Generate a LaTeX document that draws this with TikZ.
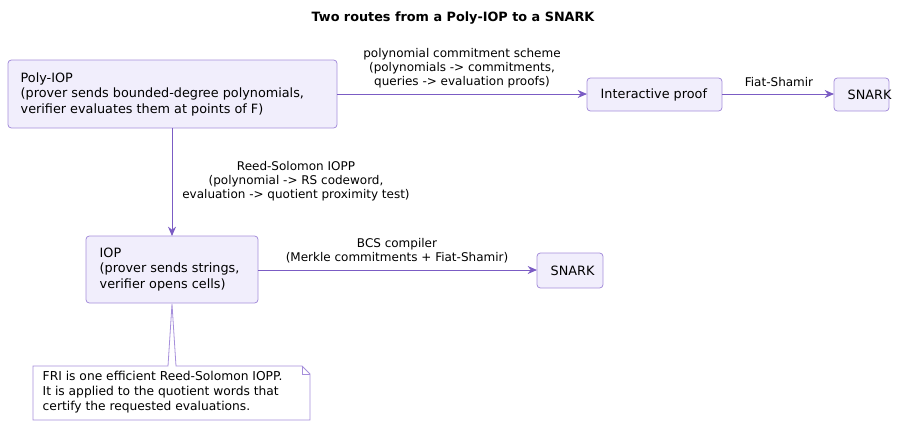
\documentclass[tikz,border=0pt]{standalone}
\usepackage{fontspec}
\setmainfont{DejaVu Sans}
\usetikzlibrary{arrows.meta}
\definecolor{boxfill}{HTML}{F1EEFC}
\definecolor{boxline}{HTML}{A68FDB}
\definecolor{arr}{HTML}{7B5CC4}
\begin{document}
\begin{tikzpicture}[x=0.75pt,y=-0.75pt,
  box/.style={draw=boxline,fill=boxfill,rounded corners=2.5pt,line width=0.6pt,inner sep=0pt},
  txt/.style={font=\fontsize{9.6}{11.6}\selectfont,align=left,anchor=west},
  lbl/.style={font=\fontsize{9}{10.5}\selectfont,align=center,inner sep=0pt},
  link/.style={draw=arr,line width=0.7pt,-{Stealth[length=7pt,width=6pt]}}]
\useasboundingbox (0,0) rectangle (906,426);
\node[font=\bfseries\fontsize{9.6}{11}\selectfont] (title) at (453,18) {Two routes from a Poly-IOP to a SNARK};
% boxes
\path[box] (8,60) rectangle (337,128);
\coordinate (poly) at (172,94);
\node[txt] (polyt) at (16,94) {Poly-IOP\\(prover sends bounded-degree polynomials,\\verifier evaluates them at points of F)};
\path[box] (587,78) rectangle (722,111);
\node[txt] (ip) at (596,94.5) {Interactive proof};
\path[box] (834,78) rectangle (889,111);
\node[txt] (sn1) at (843,94.5) {SNARK};
\path[box] (86,236) rectangle (258,303);
\node[txt] (iop) at (95,269.5) {IOP\\(prover sends strings,\\verifier opens cells)};
\path[box] (537,253) rectangle (603,288);
\node[txt] (sn2) at (546,270.5) {SNARK};
% arrows
\coordinate (a1) at (337,94); \coordinate (a2) at (587,94);
\draw[link] (a1) -- (a2);
\node[lbl] (l1) at (462,68) {polynomial commitment scheme\\(polynomials -> commitments,\\queries -> evaluation proofs)};
\coordinate (b1) at (722,94); \coordinate (b2) at (834,94);
\draw[link] (b1) -- (b2);
\node[lbl] (l2) at (779,82) {Fiat-Shamir};
\coordinate (c1) at (172,128); \coordinate (c2) at (172,236);
\draw[link] (c1) -- (c2);
\node[lbl] (l3) at (296,181) {Reed-Solomon IOPP\\(polynomial -> RS codeword,\\evaluation -> quotient proximity test)};
\coordinate (d1) at (258,270); \coordinate (d2) at (537,270);
\draw[link] (d1) -- (d2);
\node[lbl] (l4) at (397,251) {BCS compiler\\(Merkle commitments + Fiat-Shamir)};
% note
\draw[boxline,fill=white,line width=0.6pt] (33,366) -- (168,366) -- (172,304) -- (176,366) -- (302,366) -- (310,374) -- (310,420) -- (33,420) -- cycle;
\draw[boxline,line width=0.6pt] (302,366) -- (302,374) -- (310,374);
\node[txt,font=\fontsize{9.2}{11.2}\selectfont] (note) at (38,392) {FRI is one efficient Reed-Solomon IOPP.\\It is applied to the quotient words that\\certify the requested evaluations.};
\end{tikzpicture}
\end{document}
